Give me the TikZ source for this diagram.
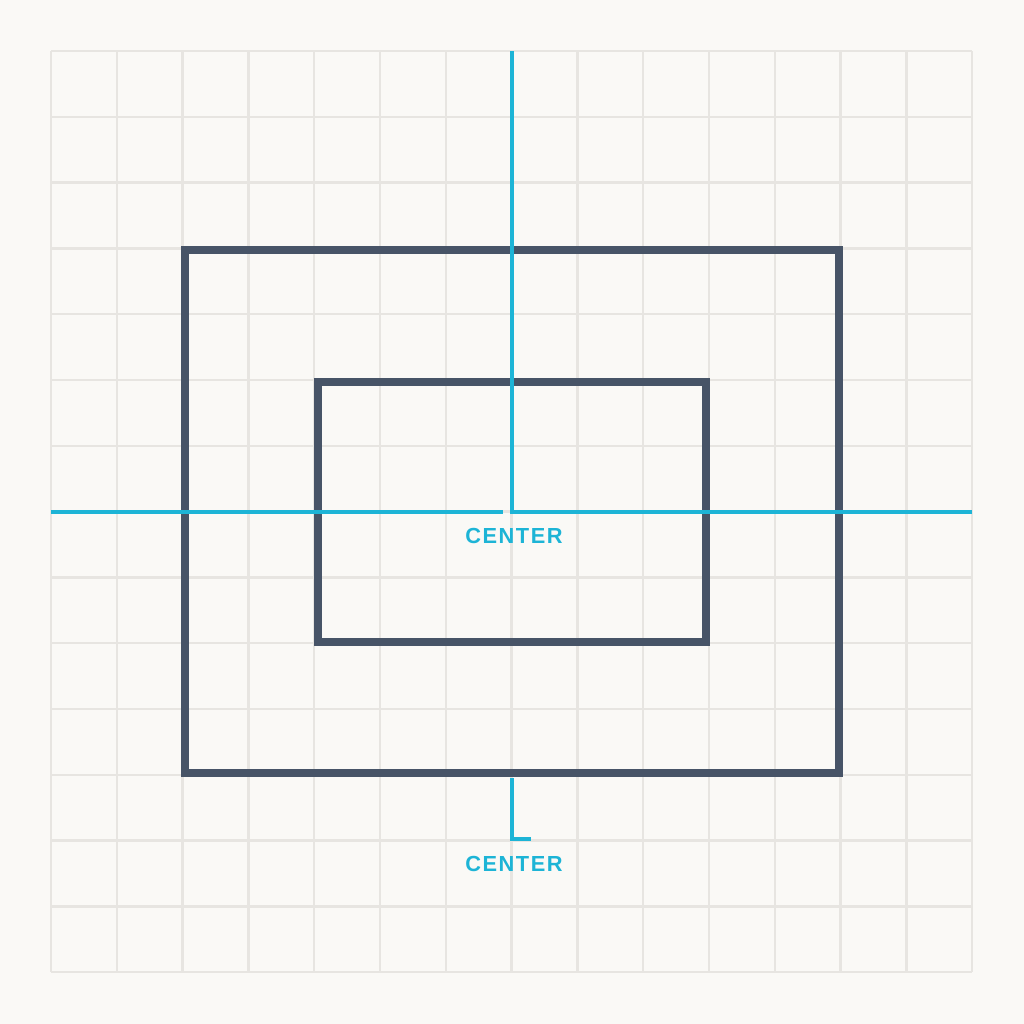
\documentclass[tikz,border=0pt]{standalone}
\usepackage{fontspec}
\setmainfont{Liberation Sans}
\newfontfamily\labelfont[LetterSpace=7]{Liberation Sans}
\definecolor{paper}{HTML}{FAF9F6}
\definecolor{gridgray}{HTML}{E7E5E1}
\definecolor{slate}{HTML}{475467}
\definecolor{guide}{HTML}{1DB4D6}
\begin{document}
\begin{tikzpicture}[x=0.01cm, y=-0.01cm,
	gridline/.style={draw=gridgray, line width=0.65pt},
	frame/.style={draw=slate, line width=2.5pt},
	inframe/.style={draw=slate, line width=2.2pt},
	axis/.style={draw=guide, line width=0.9pt},
	tag/.style={text=guide, font=\labelfont\bfseries\fontsize{6.2}{7}\selectfont, inner sep=0pt}]
	\fill[paper] (0,0) rectangle (1024,1024);
	\useasboundingbox (0,0) rectangle (1024,1024);
%	grid
	\foreach \i in {0,...,14} {
		\draw[gridline] (51+65.8*\i, 51) -- (51+65.8*\i, 972);
		\draw[gridline] (51, 51+65.8*\i) -- (972, 51+65.8*\i);
	}
	\coordinate (top) at (512, 51);
	\coordinate (origin) at (512, 512);
	\coordinate (right) at (972, 512);
	\coordinate (left) at (51, 512);
	\coordinate (gap) at (503, 512);
	\draw[frame] (185, 250) rectangle (839, 773);
	\draw[inframe] (318, 382) rectangle (706, 642);
	\draw[axis] (top) -- (origin) -- (right);
	\draw[axis] (left) -- (gap);
	\coordinate (foot) at (512, 778);
	\coordinate (knee) at (512, 839);
	\coordinate (toe) at (531, 839);
	\draw[axis] (foot) -- (knee) -- (toe);
	\node[tag] (center label) at (514, 536) {CENTER};
	\node[tag] (foot label) at (514, 864) {CENTER};
\end{tikzpicture}
\end{document}
